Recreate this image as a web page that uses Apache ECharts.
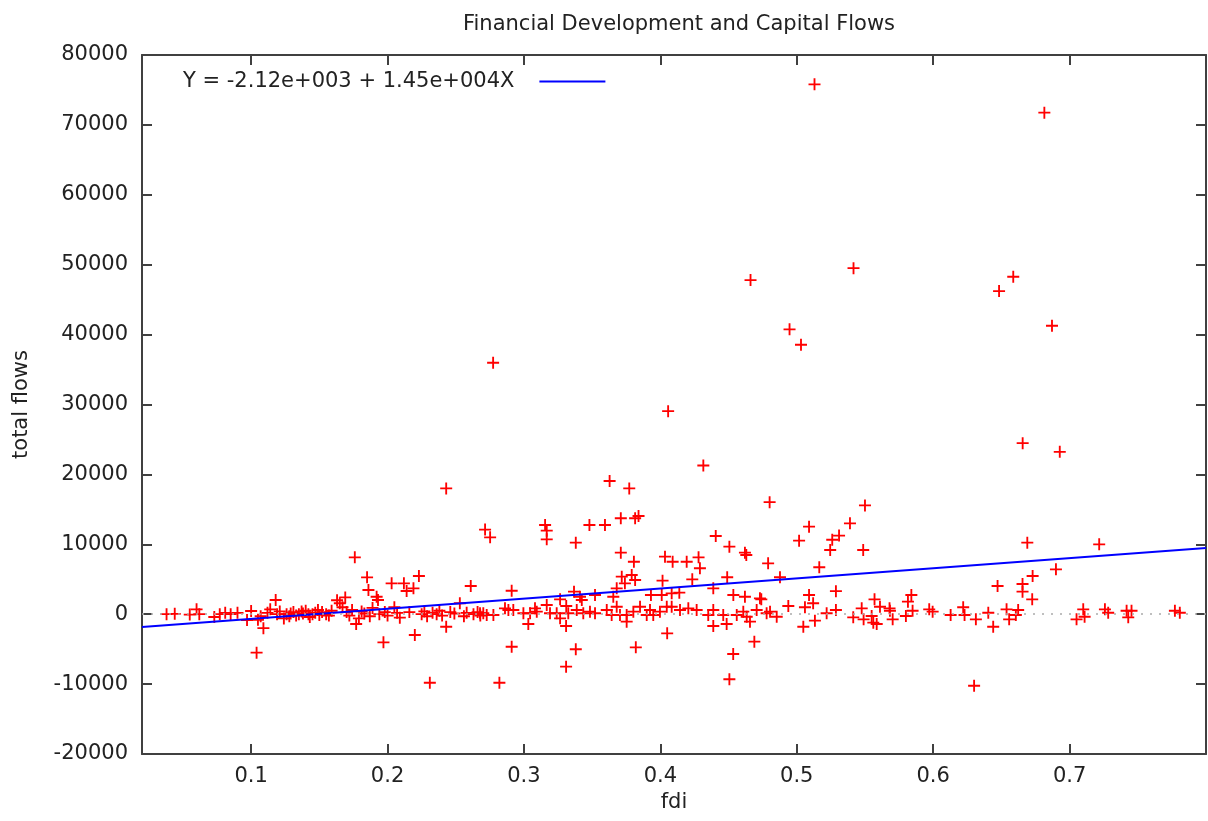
<!DOCTYPE html>
<html>
<head>
<meta charset="utf-8">
<script src="https://cdn.jsdelivr.net/npm/echarts@6/dist/echarts.min.js"></script>
<style>
  html, body { margin: 0; padding: 0; background: #fff; }
  #main { width: 1208px; height: 821px; }
</style>
</head>
<body>
<div id="main"></div>
<script>
// scatter points, grouped by region (fdi / total flows)
var fdi = [
  // left band
  0.038, 0.044, 0.055, 0.060, 0.062, 0.073, 0.077, 0.081, 0.085, 0.090,
  0.097, 0.100, 0.104, 0.105, 0.107, 0.109, 0.112, 0.114, 0.118, 0.119,
  0.121, 0.124, 0.126, 0.128, 0.129, 0.131, 0.133, 0.135, 0.137, 0.138,
  0.140, 0.142, 0.143, 0.145, 0.147, 0.149, 0.150, 0.152, 0.155, 0.157, 0.159,
  // 0.16 - 0.28
  0.163, 0.165, 0.167, 0.169, 0.170, 0.172, 0.174, 0.176, 0.177, 0.179,
  0.181, 0.183, 0.185, 0.186, 0.187, 0.189, 0.192, 0.193, 0.194, 0.197,
  0.198, 0.200, 0.203, 0.205, 0.207, 0.209, 0.212, 0.214, 0.216, 0.219,
  0.220, 0.223, 0.225, 0.227, 0.229, 0.231, 0.233, 0.236, 0.238, 0.240,
  0.243, 0.243, 0.246, 0.249, 0.253, 0.256, 0.258, 0.261, 0.263, 0.266,
  0.268, 0.2715, 0.2752, 0.2774, 0.282,
  // middle band
  0.2678, 0.2702, 0.2727, 0.2776, 0.2861, 0.2886, 0.2922, 0.2996, 0.3045, 0.3081,
  0.3094, 0.3167, 0.3191, 0.3240, 0.3265, 0.3325, 0.3387, 0.3435, 0.3484, 0.3521,
  0.3607, 0.3643, 0.3680, 0.3704, 0.3753, 0.3802, 0.3851, 0.3900, 0.3924, 0.3948,
  0.3997, 0.4047, 0.4083, 0.4144, 0.4205, 0.4266, 0.4351, 0.4388, 0.4461, 0.4560,
  0.4608, 0.4633, 0.4706, 0.4779, 0.4804, 0.4853, 0.4938, 0.5060, 0.5219, 0.5287,
  // middle, above the band
  0.291, 0.3265, 0.331, 0.3367, 0.3411, 0.3424, 0.3521, 0.3655, 0.3717, 0.374,
  0.368, 0.379, 0.3815, 0.3806, 0.371, 0.3931, 0.401, 0.4016, 0.4034, 0.4083,
  0.409, 0.4139, 0.4193, 0.4234, 0.428, 0.429, 0.4388, 0.4406, 0.449, 0.4506,
  0.4535, 0.462, 0.462, 0.463, 0.473, 0.474, 0.479, 0.4877, 0.5017, 0.509,
  0.509, 0.512, 0.5165, 0.5245, 0.526, 0.531, 0.5287,
  0.3155, 0.3167, 0.3167, 0.338, 0.348, 0.3594, 0.371, 0.3815, 0.384,
  // middle, below the band
  0.291, 0.3309, 0.338, 0.382, 0.405, 0.4534, 0.4506, 0.4689, 0.3032, 0.3309,
  0.3753, 0.4388, 0.4486, 0.4657, 0.5048, 0.5133,
  // right side
  0.539, 0.5487, 0.669, 0.7217, 0.69, 0.6729, 0.6472, 0.6655, 0.6655, 0.6726,
  0.584, 0.5815, 0.557, 0.561, 0.568, 0.63, 0.644,
  0.5476, 0.5414, 0.549, 0.5549, 0.5561, 0.5586, 0.5683, 0.5703, 0.58, 0.5849,
  0.5971, 0.5996, 0.6128, 0.622, 0.623, 0.6313, 0.6404, 0.6538, 0.6557, 0.6623,
  0.6606, 0.7051, 0.71, 0.711, 0.7259, 0.7283, 0.7418, 0.743, 0.7454, 0.7772, 0.7808,
  // high outliers
  0.513, 0.6815, 0.4661, 0.5416, 0.6483, 0.6587, 0.4947, 0.5031, 0.6871, 0.6656,
  0.6928, 0.4315, 0.4801, 0.55, 0.3628, 0.3772, 0.4057
];
var flows = [
  0, 50, -50, 700, 0, -400, 0, 200, 0, 200,
  -830, 460, -5500, -800, -300, -2000, 200, 700, 2030, 0,
  400, -600, 0, -300, 100, 300, -200, 0, 400, 100,
  500, 0, -400, 0, 200, 600, -100, 300, 0, -200, 500,

  2000, 1560, 990, 2400, 300, -200, 600, 8140, -1400, -600,
  400, 100, 5270, 3460, -300, 900, 2500, 2030, 0, -4030,
  300, -200, 4420, 1000, 200, -500, 4420, 3320, 300, 3700,
  -2980, 5460, 0, 400, -300, -9800, 200, 0, 500, -200,
  -1790, 17990, 300, 100, 1560, -300, 200, 4030, 0, 300,
  -200, 12100, 11000, 35970, -9800,

  130, 130, -110, -110, 840, 600, 600, 130, 130, 840,
  360, 1320, 130, 130, -590, 130, 600, 130, 360, 130,
  600, -110, 1070, -110, -110, 360, 1070, -110, 600, -110,
  360, 1070, 1070, 600, 840, 600, -110, 600, -110, -110,
  360, -360, 600, 130, 360, -360, 1170, 990, 130, 600,

  3360, 2130, 1170, 3220, 2500, 2030, 2750, 2500, 5370, 4420,
  3700, 5610, 4890, 7510, 8800, 2750, 2750, 4800, 8230, 2990,
  7510, 3080, 7510, 4990, 8140, 6570, 3700, 11190, 5280, 9660,
  2750, 2500, 8800, 8470, 2270, 2130, 7280, 5280, 10520, 12520,
  2750, 1560, 6710, 9180, 10650, 11250, 3300,
  12760, 11950, 10710, 10230, 12760, 12760, 13720, 13720, 14050,

  -4650, -7510, -5020, -4740, -2740, -5690, -9310, -3930, -1400, -1690,
  -1070, -1690, -1400, -1070, -1790, -930,

  13000, 9180, 10230, 10000, 6420, 5460, 4030, 4320, 3220, 2130,
  2750, 1790, 2130, 1070, 840, -10230, -1790,
  840, -450, -730, -260, -1210, -1400, 500, -730, -260, 500,
  700, 360, -110, 990, -110, -730, 210, 700, -730, 600,
  -110, -730, 700, -360, 700, 210, 500, -450, 500, 500, 210,

  75800, 71750, 47800, 49500, 46230, 48280, 40750, 38550, 41270, 24470,
  23230, 21280, 16030, 15560, 19050, 17990, 29050
];

// fitted line from the legend
var fitName = 'Y = -2.12e+003 + 1.45e+004X';
var fitIntercept = -2120;
var fitSlope = 14500;

var xMin = 0.02, xMax = 0.8;
var xTicks = [0.1, 0.2, 0.3, 0.4, 0.5, 0.6, 0.7];
var yMin = -20000, yMax = 80000, yStep = 10000;

var points = [];
for (var i = 0; i < fdi.length; i++) {
  points.push([fdi[i], flows[i]]);
}
var fitLine = [
  [xMin, fitIntercept + fitSlope * xMin],
  [xMax, fitIntercept + fitSlope * xMax]
];

var font = 'DejaVu Sans';
var fontSize = 21;
var textColor = '#222';
var axisColor = '#404040';
var plus = 'path://M5.5,0H7.5V5.5H13V7.5H7.5V13H5.5V7.5H0V5.5H5.5Z';

var chart = echarts.init(document.getElementById('main'));
var option = {
  animation: false,
  backgroundColor: '#fff',
  title: {
    text: 'Financial Development and Capital Flows',
    left: 674,
    top: 9,
    textAlign: 'center',
    textStyle: { fontFamily: font, fontSize: fontSize, fontWeight: 'normal', color: textColor }
  },
  legend: {
    data: [{ name: fitName, icon: 'rect' }],
    left: 178,
    top: 66,
    align: 'right',
    itemWidth: 66,
    itemHeight: 2,
    textStyle: { fontFamily: font, fontSize: fontSize, color: textColor, padding: [0, 20, 0, 0] }
  },
  grid: { left: 142, right: 2, top: 55, bottom: 67 },
  xAxis: [
    {
      type: 'value', min: xMin, max: xMax, position: 'bottom',
      name: 'fdi', nameLocation: 'middle', nameGap: 35,
      nameTextStyle: { fontFamily: font, fontSize: fontSize, color: textColor },
      axisLine: { onZero: false, lineStyle: { color: axisColor, width: 2 } },
      axisTick: { inside: true, length: 10, customValues: xTicks, lineStyle: { color: axisColor, width: 2 } },
      axisLabel: {
        customValues: xTicks, margin: 12,
        fontFamily: font, fontSize: fontSize, color: textColor,
        formatter: function (v) { return v.toFixed(1); }
      },
      splitLine: { show: false }
    },
    {
      type: 'value', min: xMin, max: xMax, position: 'top',
      axisLine: { onZero: false, lineStyle: { color: axisColor, width: 2 } },
      axisTick: { inside: true, length: 10, customValues: xTicks, lineStyle: { color: axisColor, width: 2 } },
      axisLabel: { show: false },
      splitLine: { show: false }
    }
  ],
  yAxis: [
    {
      type: 'value', min: yMin, max: yMax, interval: yStep, position: 'left',
      name: 'total flows', nameLocation: 'middle', nameGap: 110, nameRotate: 90,
      nameTextStyle: { fontFamily: font, fontSize: fontSize, color: textColor },
      axisLine: { show: true, onZero: false, lineStyle: { color: axisColor, width: 2 } },
      axisTick: { show: true, inside: true, length: 10, lineStyle: { color: axisColor, width: 2 } },
      axisLabel: {
        margin: 14, fontFamily: font, fontSize: fontSize, color: textColor,
        formatter: function (v) { return String(v); }
      },
      splitLine: { show: false }
    },
    {
      type: 'value', min: yMin, max: yMax, interval: yStep, position: 'right',
      axisLine: { show: true, onZero: false, lineStyle: { color: axisColor, width: 2 } },
      axisTick: { show: true, inside: true, length: 10, lineStyle: { color: axisColor, width: 2 } },
      axisLabel: { show: false },
      splitLine: { show: false }
    }
  ],
  series: [
    {
      name: 'data',
      type: 'scatter',
      data: points,
      symbol: plus,
      symbolSize: 12,
      itemStyle: { color: '#ff0000', opacity: 1 },
      markLine: {
        silent: true,
        symbol: 'none',
        label: { show: false },
        lineStyle: { color: '#aaa', width: 1.5, type: [2, 7] },
        data: [{ yAxis: 0 }]
      },
      z: 2
    },
    {
      name: fitName,
      type: 'line',
      data: fitLine,
      symbol: 'none',
      lineStyle: { color: '#0000ff', width: 2 },
      itemStyle: { color: '#0000ff' },
      z: 3
    }
  ]
};
chart.setOption(option);
</script>
</body>
</html>
